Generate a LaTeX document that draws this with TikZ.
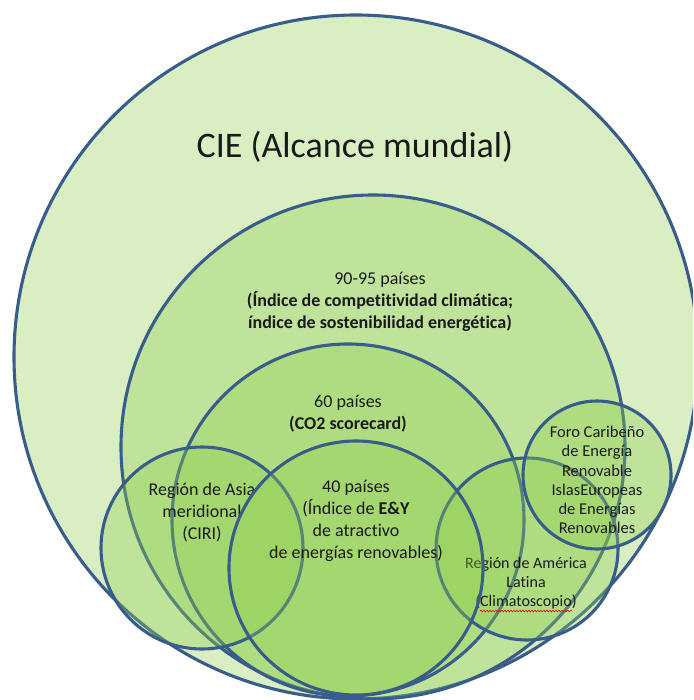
\documentclass[tikz,border=0pt]{standalone}
\usepackage{fontspec}
\setmainfont{Carlito}[Ligatures=NoCommon]
\usetikzlibrary{decorations.pathmorphing}
\definecolor{edge}{RGB}{56,93,138}
\definecolor{leaf}{RGB}{146,208,80}
\definecolor{ink}{RGB}{25,25,25}
\begin{document}
\begin{tikzpicture}[x=1pt,y=-1pt,
  circ/.style={draw=edge,line width=3.1pt,fill=leaf,fill opacity=0.34},
  lbl/.style={text=ink,align=center,font=\fontsize{18}{22}\selectfont,inner sep=0pt},
  small/.style={lbl,font=\fontsize{16}{19}\selectfont}]
\useasboundingbox (0,0) rectangle (693,700);
\clip (0,0) rectangle (693,700);
\fill[white] (0,0) rectangle (693,700);
\draw[circ] (356,357) circle[radius=342pt];
\node[text=ink,font=\fontsize{36}{43}\selectfont,inner sep=0pt] (cie) at (355,147) {CIE (Alcance mundial)};
\draw[circ] (373,447) circle[radius=252pt];
\node[lbl] (n90) at (380,302) {90-95 países\\\textbf{(Índice de competitividad climática;}\\\textbf{índice de sostenibilidad energética)}};
\draw[circ] (348,520) circle[radius=176pt];
\node[lbl] (n60) at (348,414) {60 países\\\textbf{(CO2 scorecard)}};
\draw[circ] (202,548) circle[radius=101pt];
\node[lbl] (asia) at (202,512) {Región de Asia\\meridional\\(CIRI)};
\draw[circ] (527,549) circle[radius=91pt];
\node[small] (amer) at (526,583) {Región de América\\Latina\\(Climatoscopio)};
\draw[red,line width=0.6pt,decorate,decoration={snake,amplitude=0.8pt,segment length=3pt}]
  ([xshift=-46pt,yshift=-2pt]amer.south) -- ([xshift=46pt,yshift=-2pt]amer.south);
\draw[circ] (356,568) circle[radius=127pt];
\node[lbl] (n40) at (356,521) {40 países\\(Índice de \textbf{E\&Y}\\de atractivo\\de energías renovables)};
\draw[circ] (597,475) circle[radius=74pt];
\node[small,font=\fontsize{16.5}{19.2}\selectfont] (car) at (597,480) {Foro Caribeño\\de Energía\\Renovable\\IslasEuropeas\\de Energías\\Renovables};
\end{tikzpicture}
\end{document}
